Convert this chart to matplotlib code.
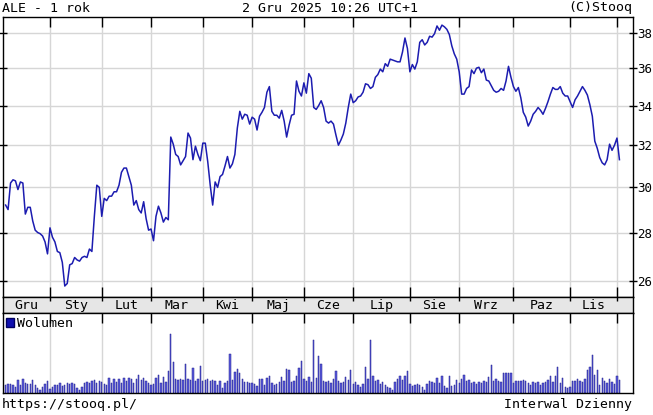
import numpy as np
import pandas as pd
import matplotlib
matplotlib.use("Agg")
import matplotlib.pyplot as plt
from matplotlib.patches import Patch
from matplotlib.ticker import FixedLocator, FixedFormatter, NullLocator

plt.rcParams['font.family'] = 'DejaVu Sans Mono'
plt.rcParams['font.size'] = 9.5

# trading days of the Warsaw exchange, 2 Dec 2024 - 2 Dec 2025
holidays = ['2024-12-24', '2024-12-25', '2024-12-26', '2024-12-31', '2025-01-01',
            '2025-01-06', '2025-04-18', '2025-04-21', '2025-05-01', '2025-06-19',
            '2025-08-15', '2025-11-11']
days = pd.bdate_range('2024-12-02', '2025-12-02')
days = days[~days.isin(pd.to_datetime(holidays))]

month_names = ['Sty', 'Lut', 'Mar', 'Kwi', 'Maj', 'Cze', 'Lip', 'Sie', 'Wrz', 'Paz', 'Lis', 'Gru']

# closing prices
close = [
    # Dec 2024
    29.2, 29.0, 30.2, 30.35, 30.3, 29.9, 30.25, 30.2, 28.8, 29.1, 29.1, 28.5, 28.1, 28.0, 27.95, 27.85, 27.6, 27.1,
    # Jan
    28.2, 27.8, 27.6, 27.2, 27.15, 26.75, 25.8, 25.9, 26.65, 26.7, 26.95, 26.85, 26.8, 26.95, 27.0, 26.95, 27.3, 27.2,
    28.7, 30.1, 30.0,
    # Feb
    28.7, 29.5, 29.4, 29.6, 29.6, 29.8, 29.8, 30.1, 30.7, 30.9, 30.9, 30.5, 30.1, 29.2, 29.4, 29.0, 28.85, 29.35, 28.6, 28.1,
    # Mar
    28.15, 27.65, 28.7, 29.15, 28.85, 28.45, 28.65, 28.55, 32.4, 32.05, 31.55, 31.45, 31.05, 31.25, 31.45, 32.6, 32.35,
    31.3, 31.95, 31.55, 31.25,
    # Apr
    32.1, 32.1, 31.2, 30.1, 29.2, 30.25, 30.0, 30.5, 30.6, 31.0, 31.45, 30.9, 31.1, 31.55, 32.85, 33.7, 33.3, 33.55, 33.5, 33.05,
    # May
    33.4, 33.3, 32.75, 33.45, 33.65, 33.9, 34.7, 35.0, 33.7, 33.5, 33.5, 33.35, 33.75, 33.2, 32.4, 33.0, 33.5, 33.55,
    35.3, 34.75, 34.5,
    # Jun
    35.2, 34.65, 35.7, 35.45, 33.9, 33.8, 34.0, 34.25, 33.9, 33.2, 33.1, 33.2, 33.05, 32.5, 32.0, 32.25, 32.55, 33.1, 33.9, 34.6,
    # Jul
    34.15, 34.25, 34.45, 34.5, 34.7, 35.15, 35.1, 34.9, 35.0, 35.5, 35.65, 35.95, 35.8, 36.25, 36.1, 36.5, 36.45, 36.4,
    36.35, 36.35, 36.9, 37.7, 37.1,
    # Aug
    35.8, 36.2, 35.95, 36.35, 37.45, 37.6, 37.3, 37.45, 37.8, 37.75, 37.95, 38.4, 38.15, 38.45, 38.35, 38.2, 37.9, 37.25,
    36.8, 36.5,
    # Sep
    35.8, 34.6, 34.6, 34.9, 35.0, 35.9, 35.7, 36.0, 36.05, 35.75, 35.95, 35.35, 35.3, 35.05, 34.8, 34.7, 34.75, 34.9,
    34.8, 35.3, 36.1, 35.5,
    # Oct
    35.0, 34.75, 34.95, 34.4, 33.65, 33.4, 32.95, 33.2, 33.55, 33.7, 33.9, 33.75, 33.55, 33.85, 34.2, 34.6, 34.95, 34.85,
    34.85, 35.0, 34.65, 34.5, 34.5,
    # Nov
    34.2, 33.9, 34.3, 34.5, 34.75, 35.0, 34.8, 34.55, 34.05, 33.45, 32.2, 31.85, 31.4, 31.15, 31.05, 31.3, 32.05, 31.75, 32.0,
    # Dec 2025
    32.35, 31.3,
]

# daily volume (relative units)
volume = [
    8, 9, 9, 8, 6, 13, 8, 14, 10, 9, 9, 13, 8, 5, 3, 6, 9, 12,
    4, 6, 8, 8, 10, 7, 8, 10, 9, 10, 9, 5, 3, 6, 10, 11, 10, 12, 13, 10, 12,
    11, 9, 8, 15, 10, 14, 11, 14, 10, 15, 12, 15, 14, 10, 14, 18, 13, 15, 12, 10,
    8, 9, 15, 18, 10, 16, 11, 22, 59, 31, 14, 13, 14, 13, 29, 14, 13, 25, 12, 14, 27,
    12, 13, 14, 12, 13, 12, 8, 12, 5, 10, 12, 39, 13, 21, 24, 20, 14, 11, 11, 10,
    10, 9, 7, 14, 14, 8, 15, 17, 10, 8, 9, 11, 16, 12, 24, 23, 11, 12, 17, 25, 32,
    14, 12, 16, 11, 53, 15, 37, 29, 12, 11, 12, 10, 14, 22, 12, 10, 11, 16, 13, 23,
    9, 11, 8, 6, 9, 26, 14, 53, 17, 12, 13, 9, 11, 8, 6, 5, 3, 11, 14, 17, 13, 17, 22,
    9, 7, 8, 9, 8, 6, 3, 9, 12, 11, 10, 15, 10, 17, 7, 5, 17, 7, 8, 13,
    10, 14, 18, 12, 13, 10, 11, 9, 11, 10, 12, 11, 16, 28, 12, 14, 12, 11, 20, 20, 20, 20,
    10, 12, 12, 12, 13, 12, 10, 8, 11, 10, 11, 8, 10, 11, 13, 17, 11, 17, 26, 10, 15, 6, 5,
    6, 12, 12, 14, 12, 11, 14, 23, 26, 38, 18, 23, 8, 15, 12, 10, 14, 11, 9,
    17, 13,
]

n = len(days)
x = np.arange(n)
starts = [i for i in range(1, n) if days[i].month != days[i - 1].month]

W, H = 653, 415
fig = plt.figure(figsize=(W / 100, H / 100), dpi=100)


def box(top, bottom):
    return [2.5 / W, 1 - bottom / H, 630 / W, (bottom - top) / H]


xlim = (-1.26, 254.3)
grid_c = '#d6d6d6'

# price panel
ax = fig.add_axes(box(17, 297))
ax.plot(x, close, color='#1c1cb0', lw=1.1)
ax.set_yscale('log')
ax.set_ylim(25.37, 38.93)
ax.set_xlim(*xlim)
ticks = [26, 28, 30, 32, 34, 36, 38]
ax.yaxis.set_major_locator(FixedLocator(ticks))
ax.yaxis.set_major_formatter(FixedFormatter([str(t) for t in ticks]))
ax.yaxis.set_minor_locator(NullLocator())
ax.yaxis.tick_right()
ax.tick_params(axis='y', direction='inout', length=6, width=1, left=True, right=True,
               pad=0.5, labelsize=9)
ax.set_xticks(starts)
ax.tick_params(axis='x', direction='in', length=7, width=1, top=True, bottom=True, labelbottom=False)
ax.grid(color=grid_c, lw=1)
ax.set_axisbelow(True)

# month label band
axb = fig.add_axes(box(297, 313))
axb.set_facecolor('#e6e6e6')
axb.set_xlim(*xlim)
axb.set_ylim(0, 1)
axb.set_yticks([])
axb.set_xticks(starts)
axb.tick_params(axis='x', direction='in', length=3, width=1, top=True, bottom=False, labelbottom=False)
edges = [xlim[0]] + starts
for k in range(len(edges) - 1):
    m = days[max(0, int(np.ceil(edges[k])))].month
    axb.text((edges[k] + edges[k + 1]) / 2, 0.45, month_names[m - 1], ha='center', va='center')

# volume panel
axv = fig.add_axes(box(313, 393))
axv.bar(x, volume, width=0.55, color='#5c5cdc', edgecolor='#20208e', lw=0.35)
axv.set_xlim(*xlim)
axv.set_ylim(0, max(volume) * 80 / 59)
axv.set_yticks([])
axv.set_xticks(starts)
axv.tick_params(axis='x', direction='in', length=7, width=1, top=True, bottom=False, labelbottom=False)
axv.grid(axis='x', color=grid_c, lw=1)
axv.set_axisbelow(True)
axv.legend(handles=[Patch(facecolor='#1010b0', edgecolor='#000060', label='Wolumen')],
           loc='upper left', frameon=False, handlelength=0.6, handleheight=0.7,
           handletextpad=0.2, borderaxespad=0.1, borderpad=0.2, fontsize=9.5)

for a in (ax, axb, axv):
    for s in a.spines.values():
        s.set_color('black')
        s.set_linewidth(1)

fig.text(2 / W, 1 - 8 / H, 'ALE - 1 rok', va='center', ha='left')
fig.text(330 / W, 1 - 8 / H, '2 Gru 2025 10:26 UTC+1', va='center', ha='center')
fig.text(632 / W, 1 - 8 / H, '(C)Stooq', va='center', ha='right')
fig.text(2 / W, 1 - 404 / H, 'https://stooq.pl/', va='center', ha='left')
fig.text(632 / W, 1 - 404 / H, 'Interwal Dzienny', va='center', ha='right')

fig.savefig('out.png', dpi=100)
